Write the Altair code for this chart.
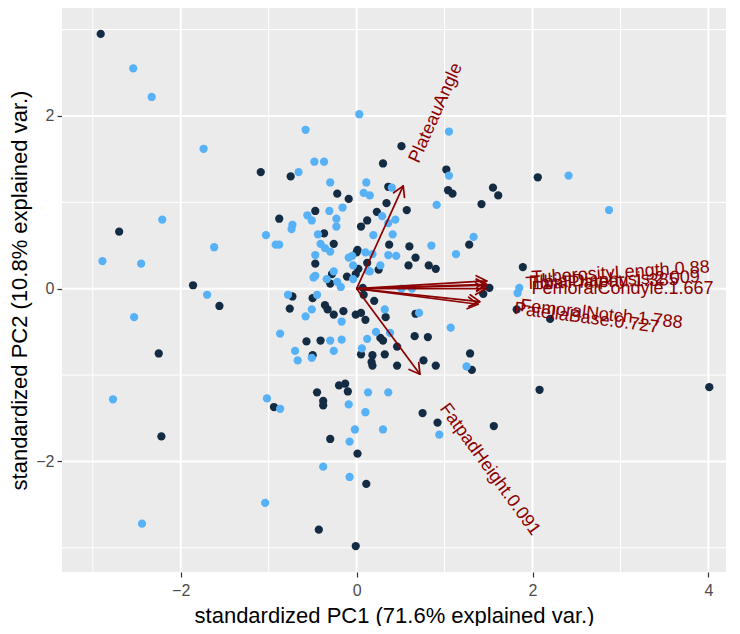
import math
import altair as alt
import pandas as pd

# ---------------- data ----------------
dark_x = [-2.91, -1.09, -0.75, -0.22, -0.09, -0.47, -0.88, 0.12, 0.05, -2.70, -0.37, -0.26, -0.47, 0.01, 0.00,
          0.12, 0.02, -0.28, -0.30, -0.11, 0.07, -1.86, -1.56, -0.73, -0.50, -0.76, -0.36, -0.33, -0.26, -0.15,
          -0.01, 0.05, 0.10, -2.25, -0.57, -0.41, -0.50, 0.05, 0.17, -2.22, -0.94, -0.45, -0.38, -0.38, -0.20,
          -0.13, -0.10, -0.30, 0.01, 0.11, -0.43, -0.01, 0.51, 0.30, 1.02, 1.04, 1.09, 1.55, 1.61, 1.42,
          0.36, 0.34, 0.23, 0.57, 2.06, 1.28, 0.60, 0.67, 0.59, 0.82, 0.90, 0.37, 0.25, 1.51, 1.44,
          1.89, 1.82, 2.20, 0.20, 0.33, 0.67, 0.66, 0.81, 0.08, -0.01, 0.27, 0.30, 0.18, 0.46, 1.29,
          0.18, 0.32, 0.46, 0.76, 0.90, 1.31, 2.08, 0.75, 0.92, 1.56, 4.01]
dark_y = [2.95, 1.35, 1.30, 1.10, 1.04, 0.90, 0.81, 0.79, 0.72, 0.66, 0.64, 0.52, 0.29, 0.45, 0.42,
          0.30, 0.23, 0.17, 0.06, 0.14, 0.01, 0.04, -0.20, -0.09, -0.11, -0.23, -0.19, -0.24, -0.30, -0.26,
          -0.30, -0.28, -0.36, -0.75, -0.61, -0.60, -0.77, -0.76, -0.85, -1.71, -1.37, -1.20, -1.30, -1.35, -1.12,
          -1.10, -1.19, -1.74, -1.91, -2.26, -2.79, -2.98, 1.65, 1.45, 1.38, 1.14, 1.10, 1.17, 1.08, 0.98,
          1.18, 0.99, 0.89, 0.91, 1.29, 0.51, 0.49, 0.36, 0.27, 0.27, 0.23, 0.51, 0.22, 0.01, -0.06,
          0.25, -0.24, -0.35, -0.14, -0.33, -0.29, -0.55, -0.56, -0.07, 0.17, -0.57, -0.60, -0.77, -0.67, -0.75,
          -0.89, -0.76, -0.89, -0.83, -0.89, -0.94, -1.17, -1.44, -1.55, -1.59, -1.14]

light_x = [-2.54, -2.33, 0.03, -0.58, -1.74, -0.66, -0.48, -0.37, -0.30, 0.11, 0.08, -0.16, -0.31, -0.56, -0.51,
           -0.73, -0.74, -0.23, -0.23, -2.21, -1.03, -0.92, -0.88, -0.44, -0.41, -0.36, -0.30, -0.47, -1.62, -2.89,
           -2.45, 0.10, -0.09, -0.47, -0.49, -0.34, -0.26, -0.22, -0.18, -0.04, -1.70, -2.53, -0.78, -0.45, -0.58,
           -0.51, -0.87, -0.30, -0.17, -0.70, -0.67, -0.51, -0.26, 0.06, 0.12, -2.77, -1.02, -0.87, -0.09, 0.13,
           0.10, -0.02, -0.08, -0.38, -0.08, -1.04, -2.44, 1.05, 1.05, 0.91, 0.40, 0.15, 0.29, 0.44, 0.36,
           0.19, 0.41, 1.33, 2.41, 2.87, 1.13, 0.85, 0.36, 0.45, 0.18, 0.27, 0.13, 0.51, 0.63, 1.85,
           1.83, 0.32, 0.71, 1.07, 0.22, 0.38, -0.04, 0.15, -0.05, -0.17, 1.25, 0.36, 0.94, 0.30]
light_y = [2.55, 2.22, 2.02, 1.84, 1.62, 1.35, 1.47, 1.47, 1.23, 1.23, 1.11, 0.94, 0.90, 0.85, 0.79,
           0.74, 0.69, 0.81, 0.72, 0.80, 0.62, 0.51, 0.51, 0.63, 0.52, 0.47, 0.43, 0.39, 0.48, 0.32,
           0.29, 0.42, 0.36, 0.15, 0.13, 0.11, 0.20, 0.08, 0.02, 0.11, -0.07, -0.33, -0.07, -0.07, -0.32,
           -0.24, -0.52, -0.60, -0.59, -0.72, -0.83, -0.80, -0.72, -0.69, -0.58, -1.28, -1.27, -1.39, -1.34, -1.20,
           -1.43, -1.63, -1.77, -2.06, -2.18, -2.48, -2.72, 1.82, 1.31, 0.97, 1.17, 1.08, 0.84, 0.80, 0.76,
           0.62, 0.63, 0.60, 1.31, 0.91, 0.40, 0.50, 0.39, 0.38, 0.40, 0.27, 0.21, 0.00, 0.00, 0.01,
           -0.05, -0.24, -0.28, -0.45, -0.50, -0.51, 0.27, 0.20, 0.38, -0.38, -0.90, -1.20, -1.69, -1.63]

var_names = ["PlateauAngle", "FatpadHeight.0.091", "TuberosityLength.0.88", "TibialDiaphysis.2.009",
             "TibialPlateau.1.385", "FemoralCondyle.1.667", "FemoralNotch.1.788", "PatellaBase.0.727"]
var_x = [0.53, 0.72, 1.48, 1.48, 1.48, 1.47, 1.40, 1.38]
var_y = [1.19, -0.99, 0.09, 0.05, 0.04, 0.00, -0.15, -0.18]

x_major = [-2, 0, 2, 4]
x_minor = [-3, -1, 1, 3]
y_major = [-2, 0, 2]
y_minor = [-3, -1, 1, 3]

x_title = "standardized PC1 (71.6% explained var.)"
y_title = "standardized PC2 (10.8% explained var.)"

# ---------------- layout / style ----------------
X_DOM = [-3.35, 4.2]
Y_DOM = [-3.28, 3.25]
W, H = 664, 564
FONT = "Liberation Sans"
RED = "#8B0000"
LABEL_SIZE = 18
px_per_unit = W / (X_DOM[1] - X_DOM[0])

# Arial advance widths (per em) to place labels like ggplot's hjust = -0.25
AW = {"T": .611, "u": .556, "b": .556, "e": .556, "r": .333, "o": .556, "s": .5, "i": .222, "t": .278,
      "y": .5, "L": .556, "n": .556, "g": .556, "h": .556, ".": .278, "D": .722, "a": .556, "p": .556,
      "l": .222, "P": .667, "C": .722, "F": .611, "m": .833, "N": .722, "c": .5, "B": .667, "A": .667,
      "H": .722, "d": .556}


def text_w(s):
    return sum(AW.get(ch, .556) for ch in s) * LABEL_SIZE


pts = pd.concat([
    pd.DataFrame({"x": dark_x, "y": dark_y, "g": "a"}),
    pd.DataFrame({"x": light_x, "y": light_y, "g": "b"}),
], ignore_index=True)

shafts, heads, labels = [], [], []
HEAD = 0.135
for name, vx, vy in zip(var_names, var_x, var_y):
    th = math.atan2(vy, vx)
    shafts.append({"x": 0.0, "y": 0.0, "x2": vx, "y2": vy})
    for s in (1, -1):
        a = th + math.pi + s * math.pi / 6
        heads.append({"x": vx, "y": vy, "x2": vx + HEAD * math.cos(a), "y2": vy + HEAD * math.sin(a)})
    off = 0.25 * text_w(name) / px_per_unit
    labels.append({"x": vx + off * math.cos(th), "y": vy + off * math.sin(th), "label": name,
                   "angle": (-math.degrees(th)) % 360})

shafts = pd.DataFrame(shafts)
heads = pd.DataFrame(heads)
labels = pd.DataFrame(labels)

xs = alt.Scale(domain=X_DOM, nice=False, zero=False)
ys = alt.Scale(domain=Y_DOM, nice=False, zero=False)
ax_common = dict(grid=False, domain=False, tickColor="#333333", tickSize=5, tickWidth=1.2,
                 labelColor="#4D4D4D", labelFontSize=16, labelFont=FONT, titleFont=FONT,
                 titleFontSize=22, titleFontWeight="normal", titleColor="#000000")
xaxis = alt.Axis(values=x_major, title=x_title, labelPadding=5, titlePadding=7, **ax_common)
yaxis = alt.Axis(values=y_major, title=y_title, labelPadding=3, titlePadding=4, **ax_common)

base_x = lambda f: alt.X(f, scale=xs, axis=xaxis)
base_y = lambda f: alt.Y(f, scale=ys, axis=yaxis)

gx_minor = alt.Chart(pd.DataFrame({"v": x_minor})).mark_rule(color="white", strokeWidth=1).encode(
    x=base_x("v:Q"), y=alt.value(0), y2=alt.value(H))
gx_major = alt.Chart(pd.DataFrame({"v": x_major})).mark_rule(color="white", strokeWidth=2).encode(
    x=base_x("v:Q"), y=alt.value(0), y2=alt.value(H))
gy_minor = alt.Chart(pd.DataFrame({"v": y_minor})).mark_rule(color="white", strokeWidth=1).encode(
    y=base_y("v:Q"), x=alt.value(0), x2=alt.value(W))
gy_major = alt.Chart(pd.DataFrame({"v": y_major})).mark_rule(color="white", strokeWidth=2).encode(
    y=base_y("v:Q"), x=alt.value(0), x2=alt.value(W))

points = alt.Chart(pts).mark_circle(size=68, opacity=1).encode(
    x=base_x("x:Q"), y=base_y("y:Q"),
    color=alt.Color("g:N", scale=alt.Scale(domain=["a", "b"], range=["#132B43", "#56B1F7"]), legend=None),
)

arrow_shafts = alt.Chart(shafts).mark_rule(color=RED, strokeWidth=1.7).encode(
    x=base_x("x:Q"), y=base_y("y:Q"), x2="x2:Q", y2="y2:Q")
arrow_heads = alt.Chart(heads).mark_rule(color=RED, strokeWidth=1.7, strokeCap="round").encode(
    x=base_x("x:Q"), y=base_y("y:Q"), x2="x2:Q", y2="y2:Q")

text = alt.Chart(labels).mark_text(align="left", baseline="middle", fontSize=LABEL_SIZE, font=FONT,
                                   color=RED).encode(
    x=base_x("x:Q"), y=base_y("y:Q"), text="label:N", angle=alt.Angle("angle:Q", scale=None))

chart = alt.layer(gx_minor, gy_minor, gx_major, gy_major, points, arrow_shafts, arrow_heads, text).properties(
    width=W, height=H,
    autosize=alt.AutoSizeParams(type="none"),
    padding={"left": 54, "top": 0, "right": 0, "bottom": 54},
).configure_view(fill="#EBEBEB", stroke=None)

chart.save("out.html", embed_options={"renderer": "svg", "actions": False})
